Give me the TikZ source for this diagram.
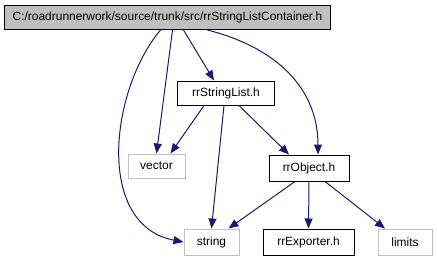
\documentclass[tikz,border=0pt]{standalone}
\usepackage{fontspec}
\setmainfont{Liberation Sans}
\usetikzlibrary{arrows.meta}
\definecolor{edgeblue}{RGB}{25,25,112}
\definecolor{boxgrey}{RGB}{191,191,191}
\tikzset{
	file/.style={draw=black, line width=1bp, minimum height=24bp, inner sep=0pt, font=\fontsize{12}{14}\selectfont},
	cur/.style={file, fill=boxgrey},
	sys/.style={file, draw=boxgrey},
	dep/.style={draw=edgeblue, line width=1bp, -{Triangle[length=10bp,width=8bp]}, fill=none},
}

\begin{document}
\begin{tikzpicture}[x=1bp, y=-1bp]
	\useasboundingbox (0,0) rectangle (437,261);
	\node[cur, minimum width=325bp] (container) at (167.5,17.5) {C:/roadrunnerwork/source/trunk/src/rrStringListContainer.h};
	\node[file, minimum width=97bp] (strlist) at (226,93) {rrStringList.h};
	\node[sys, minimum width=57bp] (vector) at (156.5,166) {vector};
	\node[file, minimum width=80bp, minimum height=26bp] (object) at (309,168) {rrObject.h};
	\node[sys, minimum width=55bp, minimum height=26bp] (string) at (211.5,242) {string};
	\node[file, minimum width=91bp, minimum height=26bp] (exporter) at (308.5,242) {rrExporter.h};
	\node[sys, minimum width=54bp, minimum height=26bp] (limits) at (405,242) {limits};
	%
	\draw[dep] ([xshift=-7bp]container.south) .. controls (110,90) and (95,225) .. (string.west);
	\draw[dep] ([xshift=5bp]container.south) -- (vector.north);
	\draw[dep] ([xshift=16bp]container.south) -- ([xshift=-12bp]strlist.north);
	\draw[dep] ([xshift=40bp]container.south) .. controls (285,50) and (318,95) .. ([xshift=9bp]object.north);
	\draw[dep] ([xshift=-22bp]strlist.south) -- ([xshift=14bp]vector.north);
	\draw[dep] ([xshift=-2bp]strlist.south) -- (string.north);
	\draw[dep] ([xshift=13bp]strlist.south) -- ([xshift=-20bp]object.north);
	\draw[dep] ([xshift=-14bp]object.south) -- ([xshift=17bp]string.north);
	\draw[dep] (object.south) -- (exporter.north);
	\draw[dep] ([xshift=16bp]object.south) -- ([xshift=-20bp]limits.north);
\end{tikzpicture}
\end{document}
